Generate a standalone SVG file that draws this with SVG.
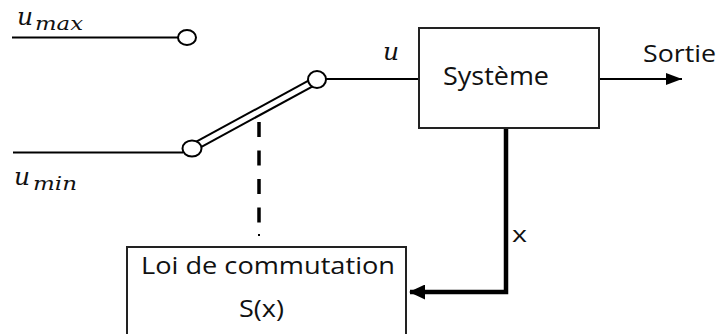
<svg xmlns="http://www.w3.org/2000/svg" width="718" height="334" viewBox="0 0 718 334">
<style>
.w{stroke:#000;stroke-width:2;fill:none}
.box{fill:#fff;stroke:#222;stroke-width:2}
.term{fill:#fff;stroke:#000;stroke-width:2}
.lbl{font-family:"Open Sans","Liberation Sans",sans-serif;fill:#111}
.math{font-family:"DejaVu Serif","Liberation Serif",serif;font-style:italic;fill:#111}
</style>
<defs>
<marker id="ah" viewBox="0 0 16 12" refX="16" refY="6" markerWidth="16" markerHeight="12" markerUnits="userSpaceOnUse" orient="auto">
<path d="M0,0 L16,6 L0,12 Z" fill="#000"/>
</marker>
<marker id="ah2" viewBox="0 0 16 15" refX="15" refY="7.5" markerWidth="16" markerHeight="15" markerUnits="userSpaceOnUse" orient="auto">
<path d="M0,0 L16,7.5 L0,15 Z" fill="#000"/>
</marker>
</defs>
<g id="connectors">
<line class="w" x1="12" y1="37.5" x2="178" y2="37.5"/>
<line class="w" x1="13" y1="152.5" x2="183" y2="152.5"/>
<line class="w" x1="325" y1="79" x2="419" y2="79"/>
<line class="w" x1="599" y1="79" x2="682" y2="79" marker-end="url(#ah)"/>
<polyline points="506,129 506,292 410,292" fill="none" stroke="#000" stroke-width="4.5" marker-end="url(#ah2)"/>
<line x1="259" y1="122" x2="259" y2="223" stroke="#000" stroke-width="3.5" stroke-dasharray="15 13.5"/>
<line x1="259" y1="234" x2="259" y2="236" stroke="#000" stroke-width="2"/>
<line x1="192" y1="148" x2="317" y2="80" stroke="#000" stroke-width="9"/>
<line x1="192" y1="148" x2="317" y2="80" stroke="#fff" stroke-width="5"/>
</g>
<g id="umax">
<ellipse class="term" cx="187" cy="37.5" rx="9" ry="7.5"/>
<text class="math" x="17" y="25" font-size="25">u</text>
<text class="math" x="35" y="30" font-size="19" textLength="48" lengthAdjust="spacingAndGlyphs">max</text>
</g>
<g id="umin">
<ellipse class="term" cx="192" cy="148.5" rx="9.5" ry="8"/>
<text class="math" x="14" y="185" font-size="25">u</text>
<text class="math" x="33" y="190" font-size="19" textLength="44" lengthAdjust="spacingAndGlyphs">min</text>
</g>
<g id="switch">
<ellipse class="term" cx="317" cy="79.5" rx="9" ry="8.5"/>
<text class="math" x="383" y="60" font-size="25">u</text>
</g>
<g id="systeme">
<rect class="box" x="419" y="28" width="180" height="100"/>
<text class="lbl" x="443" y="85" font-size="25" textLength="106" lengthAdjust="spacingAndGlyphs">Système</text>
</g>
<g id="sortie">
<text class="lbl" x="643" y="62" font-size="24" textLength="73" lengthAdjust="spacingAndGlyphs">Sortie</text>
</g>
<g id="xlabel">
<text class="lbl" x="512" y="242" font-size="22" textLength="15" lengthAdjust="spacingAndGlyphs">x</text>
</g>
<g id="loi">
<rect class="box" x="127" y="247" width="279" height="92"/>
<text class="lbl" x="141" y="274" font-size="24" textLength="254" lengthAdjust="spacingAndGlyphs">Loi de commutation</text>
<text class="lbl" x="239" y="317" font-size="24" textLength="45" lengthAdjust="spacingAndGlyphs">S(x)</text>
</g>
</svg>
